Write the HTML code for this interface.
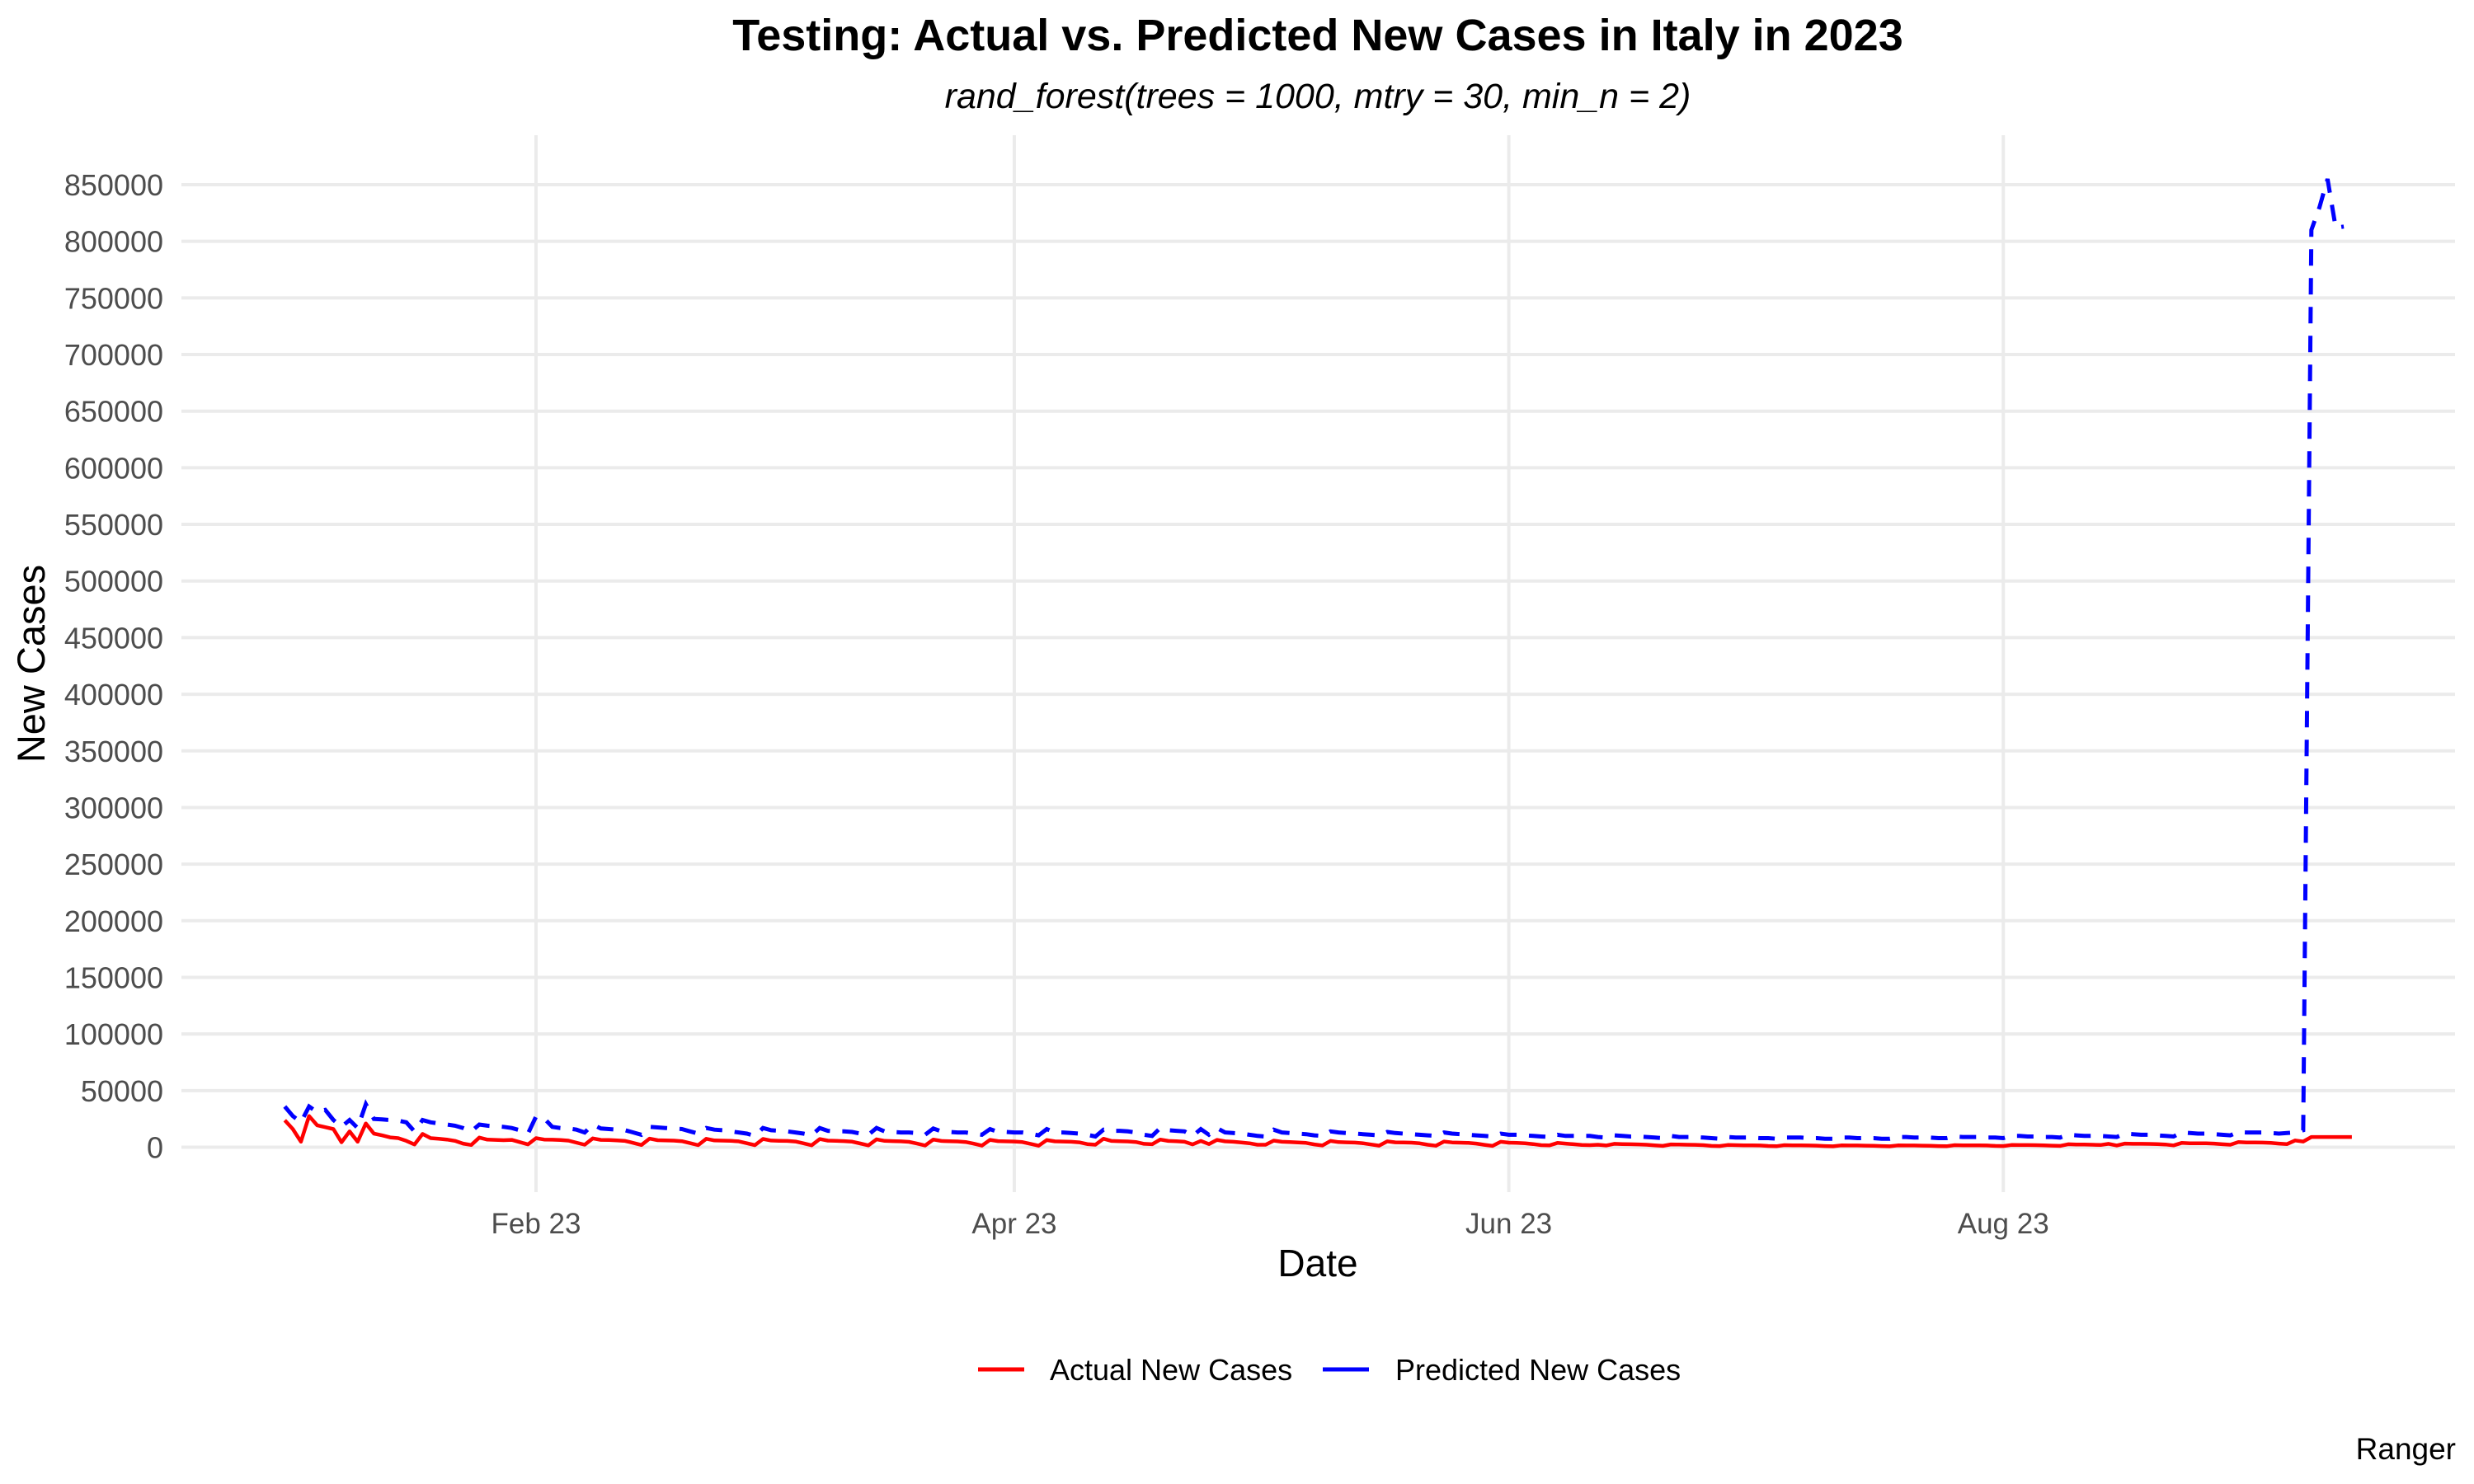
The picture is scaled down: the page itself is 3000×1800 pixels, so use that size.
<!DOCTYPE html>
<html><head><meta charset="utf-8"><style>
html,body{margin:0;padding:0;background:#fff;}
svg{display:block;font-family:"Liberation Sans",Arial,sans-serif;}
</style></head><body>
<svg id="chart" width="3000" height="1800" viewBox="0 0 3000 1800">
<text x="1598" y="61" text-anchor="middle" font-size="54" font-weight="bold">Testing: Actual vs. Predicted New Cases in Italy in 2023</text>
<text x="1598" y="131" text-anchor="middle" font-size="43" font-style="italic">rand_forest(trees = 1000, mtry = 30, min_n = 2)</text>
<g id="grid"></g>
<g id="yticks"></g>
<g id="xticks"></g>
<g id="series"></g>
<text transform="translate(54,805) rotate(-90)" text-anchor="middle" font-size="47">New Cases</text>
<text x="1598" y="1548" text-anchor="middle" font-size="46">Date</text>
<g>
<g>
<line x1="1186" y1="1661" x2="1242" y2="1661" stroke="#ff0000" stroke-width="5"/>
<text x="1273" y="1674" font-size="36">Actual New Cases</text></g>
<g>
<line x1="1604" y1="1661" x2="1660" y2="1661" stroke="#0000ff" stroke-width="5"/>
<text x="1692" y="1674" font-size="36">Predicted New Cases</text></g>
</g>
<text x="2978" y="1770" text-anchor="end" font-size="37">Ranger</text>
</svg>
<script>
const yTicks = [0,50000,100000,150000,200000,250000,300000,350000,400000,450000,500000,550000,600000,650000,700000,750000,800000,850000];
const xTickLabels = ["Feb 23","Apr 23","Jun 23","Aug 23"];
const xTickDays = [31,90,151,212];
const actualK = [23.8,16,4.9,27.5,19.4,17.7,16,4.4,14,4.9,21,12,10.5,8.7,8,5.6,2.4,
11.7,8,7.5,6.8,5.6,3.2,2,
8.5,6.7,6.5,6.2,6.5,4.5,2.5,
8,6.8,6.6,6.3,5.8,4,2.2,
7.8,6.5,6.3,6,5.5,3.8,2.0,
7.6,6.2,6,5.8,5.3,3.6,1.8,
7.4,6,5.8,5.6,5.2,3.5,1.8,
7.3,5.9,5.7,5.5,5,3.4,1.7,
7.2,5.8,5.6,5.4,4.9,3.3,1.6,
7,5.6,5.4,5.2,4.7,3.2,1.5,
6.8,5.5,5.3,5.1,4.6,3.1,1.4,
6.5,5.4,5.2,5,4.5,3,1.3,
6.3,5.2,5,4.8,4.3,2.8,2.2,
7.5,5.5,5.3,5.1,4.6,3,2.6,
6.8,5.5,5.3,4.8,2.5,5.5,2.8,
6.5,5.2,4.8,4.2,3.5,2.2,2.2,
5.8,4.8,4.6,4.2,3.8,2.5,1.5,
5.5,4.5,4.3,4.1,3.5,2.4,1.4,
5.2,4.3,4.2,4,3.4,2.2,1.3,
5,4.2,4.0,3.8,3.2,2.1,1.2,
4.8,4,3.8,3.5,2.8,1.8,1.6,
3.8,3.2,2.6,2,1.8,2.2,1.5,
3,2.8,2.6,2.5,2.2,1.6,1.2,
2.5,2.3,2.2,2.1,1.8,1.2,1,
2,1.8,1.7,1.6,1.5,1.1,0.9,
1.8,1.6,1.6,1.5,1.4,1,0.8,
1.6,1.5,1.5,1.4,1.3,1,0.8,
1.6,1.5,1.5,1.4,1.3,1,0.9,
1.8,1.7,1.6,1.6,1.5,1.2,1,
2,1.9,1.9,1.8,1.7,1.4,1.2,
2.6,2.4,2.3,2.2,2.0,3,1.5,
3.2,3,3,2.9,2.7,2.4,1.6,
3.8,3.5,3.5,3.4,3.2,2.6,2.2,
4.6,4.2,4.2,4.1,3.8,3.2,2.8,
6,5,9,9,9,9,9,9];
const predictedK = [36,27.5,22,36,31,33,24,18,24,17,38,25,24.5,24,23.5,22,14,
24,22,21,20,19,17,14,
20,19,18.5,18,17,15,12,
27,25.5,18,17,16.5,15.5,13,
20,16.5,16,15.5,15,13,11,
18,17.5,17,16.5,16,14,12,
17,15.5,15,14,13,12,10,
17,15,14.5,14,13,12,10.5,
17,14.5,14,14,13.5,12,11,
17,14,13.5,13,13,12.5,11,
16.5,14,13.5,13,13,12,11,
16,13.5,13.5,13,13,12,10.5,
16,13,13,12.5,12,11,9.5,
15.5,14.5,14.5,14,13,11,10,
17,15,14.5,14,10,16,11,
17,13,12.5,12,11,10,9.5,
15.5,13,12.5,12,11.5,10.5,10,
14,13,12.5,12,11.5,11,10.5,
13.5,12.5,12,11.5,11,10.5,10,
13,12,11.5,11,10.5,10,9.5,
12,11,11,10.5,10,9.5,9,
11,10,10,10,10,9,8.5,
10.5,10,9.5,9.5,9,8.5,8,
10,9,9,9,8.5,8,7.5,
9,8.5,8.5,8.5,8,8,7.5,
8.5,8.5,8.5,8,8,7.5,7.5,
8.5,8.5,8,8,8,7.5,7.5,
9,9,8.5,8.5,8.5,8,8,
9.5,9,9,9,8.5,8.5,8,
10,10,9.5,9.5,9,9,8.5,
11,10.5,10,10,10,9.5,9,
12,11.5,11,11,10.5,10,9.5,
13,12.5,12,12,11.5,11,10.5,
13.5,13,13,13,12.5,12,12.5,
13,15,810,830,855,812,813];

const NS="http://www.w3.org/2000/svg";
const X0=220, X1=2977;
function xDay(d){return 650+(d-31)*9.83;}
function yVal(v){return 1391.5 - v*(1167.5/850000);}
function mk(tag,attrs,parent){const e=document.createElementNS(NS,tag);for(const k in attrs)e.setAttribute(k,attrs[k]);parent.appendChild(e);return e;}
const grid=document.getElementById('grid'), yt=document.getElementById('yticks'), xt=document.getElementById('xticks'), ser=document.getElementById('series');
yTicks.forEach(v=>{
  const l=mk('line',{x1:X0,x2:X1,y1:yVal(v),y2:yVal(v),stroke:'#ebebeb','stroke-width':4},grid);
  
  
  const t=mk('text',{x:198,y:yVal(v)+13,'text-anchor':'end','font-size':36,fill:'#4d4d4d'},yt);
  t.textContent=String(v);
  
  
});
xTickDays.forEach((d,i)=>{
  const l=mk('line',{x1:xDay(d),x2:xDay(d),y1:164,y2:1446,stroke:'#ebebeb','stroke-width':4},grid);
  
  
  const t=mk('text',{x:xDay(d),y:1496,'text-anchor':'middle','font-size':35,fill:'#4d4d4d'},xt);
  t.textContent=xTickLabels[i];
  
  
});
function pts(arr){return arr.map((v,i)=>xDay(i).toFixed(1)+','+yVal(v*1000).toFixed(1)).join(' ');}
const pa=mk('polyline',{points:pts(actualK),fill:'none',stroke:'#ff0000','stroke-width':4.5,'stroke-linejoin':'round'},ser);


const pp=mk('polyline',{points:pts(predictedK),fill:'none',stroke:'#0000ff','stroke-width':5,'stroke-dasharray':'20 15'},ser);


</script>
</body></html>
